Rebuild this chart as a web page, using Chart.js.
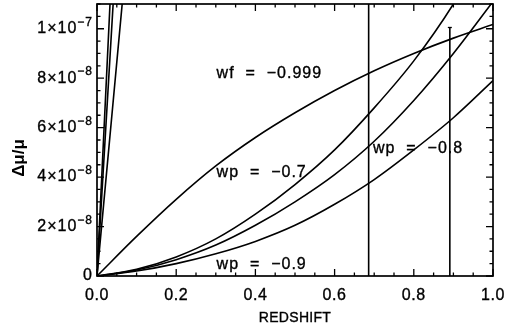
<!DOCTYPE html>
<html>
<head>
<meta charset="utf-8">
<script src="https://cdn.jsdelivr.net/npm/chart.js@4"></script>
<style>
html, body { margin: 0; padding: 0; background: #fff; }
#wrap { width: 509px; height: 327px; }
</style>
</head>
<body>
<div id="wrap"><canvas id="chart"></canvas></div>
<script>
// redshift grid and curves, Δμ/μ in units of 1e-8
const redshift = [0, 0.1, 0.2, 0.3, 0.4, 0.5, 0.6, 0.7, 0.8, 0.9, 1.0];
const wfCurve = [0, 1.6, 3.1, 4.45, 5.6, 6.6, 7.5, 8.3, 9.0, 9.62, 10.17];
const wpSteep = [0, 0.27, 0.77, 1.5, 2.5, 3.7, 5.1, 6.8, 8.7, 11.0, 13.8];
const wpMid = [0, 0.24, 0.66, 1.25, 2.05, 3.0, 4.1, 5.45, 7.1, 9.0, 11.1];
const wpLow = [0, 0.2, 0.5, 0.9, 1.4, 2.05, 2.9, 3.9, 5.1, 6.4, 7.9];

// very steep lines near z = 0 (end points beyond the top are clipped)
const steepZ = [0, 0.1];
const steepA = [0, 33.5];
const steepB = [0, 27.0];
const steepC = [0, 17.3];

// vertical markers
const markerA = { z: 0.686, top: 12 };
const markerB = { z: 0.891, top: 10.05 };

const xTicks = [0, 0.2, 0.4, 0.6, 0.8, 1.0];
const xTickLabels = ['0.0', '0.2', '0.4', '0.6', '0.8', '1.0'];
const yTicks = [0, 2, 4, 6, 8, 10];
const yTickLabels = [['0', ''], ['2×10', '−8'], ['4×10', '−8'], ['6×10', '−8'], ['8×10', '−8'], ['1×10', '−7']];

const notes = [
    { text: 'wf  =  −0.999', z: 0.302, v: 8.2 },
    { text: 'wp  =  −0.7', z: 0.302, v: 4.17 },
    { text: 'wp  =  −0.9', z: 0.302, v: 0.47 },
    { text: 'wp  =  −0.8', z: 0.697, v: 5.14 },
];

const pts = (xs, ys) => xs.map((x, i) => ({ x, y: ys[i] }));

function curve(data) {
    return {
        data,
        borderColor: '#000',
        borderWidth: 1.6,
        pointRadius: 0,
        fill: false,
        cubicInterpolationMode: 'monotone',
    };
}

const FONT = "'Liberation Sans', Arial, sans-serif";

// slightly heavier text, like the original plot
function ink(ctx, text, px, py) {
    ctx.fillText(text, px, py);
    ctx.strokeText(text, px, py);
}

const framePlugin = {
    id: 'frame',
    afterDatasetsDraw(chart) {
        const { ctx, chartArea: a, scales: { x, y } } = chart;
        ctx.save();
        ctx.strokeStyle = '#000';
        ctx.lineWidth = 1.7;
        ctx.strokeRect(a.left, a.top, a.right - a.left, a.bottom - a.top);

        ctx.lineWidth = 1.3;
        ctx.beginPath();
        for (let i = 0; i <= 20; i++) {
            const px = x.getPixelForValue(i * 0.05);
            const len = i % 4 === 0 ? 7 : 3.5;
            ctx.moveTo(px, a.bottom); ctx.lineTo(px, a.bottom - len);
            ctx.moveTo(px, a.top); ctx.lineTo(px, a.top + len);
        }
        for (let i = 0; i <= 22; i++) {
            const py = y.getPixelForValue(i * 0.5);
            const len = i % 4 === 0 ? 7 : 3.5;
            ctx.moveTo(a.left, py); ctx.lineTo(a.left + len, py);
            ctx.moveTo(a.right, py); ctx.lineTo(a.right - len, py);
        }
        ctx.stroke();

        // cap on the short marker
        const cx = x.getPixelForValue(markerB.z);
        const cy = y.getPixelForValue(markerB.top);
        ctx.beginPath();
        ctx.moveTo(cx - 2, cy); ctx.lineTo(cx + 2, cy);
        ctx.stroke();

        ctx.fillStyle = '#000';
        ctx.lineWidth = 0.35;
        ctx.font = `16px ${FONT}`;
        ctx.textBaseline = 'middle';
        ctx.letterSpacing = '0.6px';

        ctx.textAlign = 'center';
        xTicks.forEach((v, i) => {
            ink(ctx, xTickLabels[i], x.getPixelForValue(v), a.bottom + 20);
        });

        ctx.letterSpacing = '1px';
        yTicks.forEach((v, i) => {
            const [base, exp] = yTickLabels[i];
            const py = y.getPixelForValue(v);
            const right = a.left - 4;
            ctx.font = `12px ${FONT}`;
            const ew = exp ? ctx.measureText(exp).width : 0;
            ctx.textAlign = 'right';
            if (exp) ink(ctx, exp, right, py - 6);
            ctx.font = `16px ${FONT}`;
            ink(ctx, base, right - ew, py);
        });

        ctx.letterSpacing = '1px';
        ctx.textAlign = 'left';
        notes.forEach((n) => {
            ink(ctx, n.text, x.getPixelForValue(n.z), y.getPixelForValue(n.v));
        });

        ctx.letterSpacing = '0.3px';
        ctx.font = `14px ${FONT}`;
        ctx.textAlign = 'center';
        ink(ctx, 'REDSHIFT', (a.left + a.right) / 2, a.bottom + 42);

        ctx.save();
        ctx.translate(19, 158);
        ctx.rotate(-Math.PI / 2);
        ctx.letterSpacing = '0px';
        ctx.font = `bold 17px ${FONT}`;
        ctx.fillText('Δμ/μ', 0, 0);
        ctx.restore();

        ctx.restore();
    },
};

new Chart(document.getElementById('chart'), {
    type: 'line',
    data: {
        datasets: [
            curve(pts(redshift, wfCurve)),
            curve(pts(redshift, wpSteep)),
            curve(pts(redshift, wpMid)),
            curve(pts(redshift, wpLow)),
            curve(pts(steepZ, steepA)),
            curve(pts(steepZ, steepB)),
            curve(pts(steepZ, steepC)),
            curve([{ x: markerA.z, y: 0 }, { x: markerA.z, y: markerA.top }]),
            curve([{ x: markerB.z, y: 0 }, { x: markerB.z, y: markerB.top }]),
        ],
    },
    options: {
        responsive: true,
        maintainAspectRatio: false,
        animation: false,
        layout: { padding: { left: 97, right: 16, top: 4, bottom: 51 } },
        plugins: { legend: { display: false }, tooltip: { enabled: false } },
        scales: {
            x: { type: 'linear', min: 0, max: 1, display: false },
            y: { type: 'linear', min: 0, max: 11, display: false },
        },
    },
    plugins: [framePlugin],
});
</script>
</body>
</html>
